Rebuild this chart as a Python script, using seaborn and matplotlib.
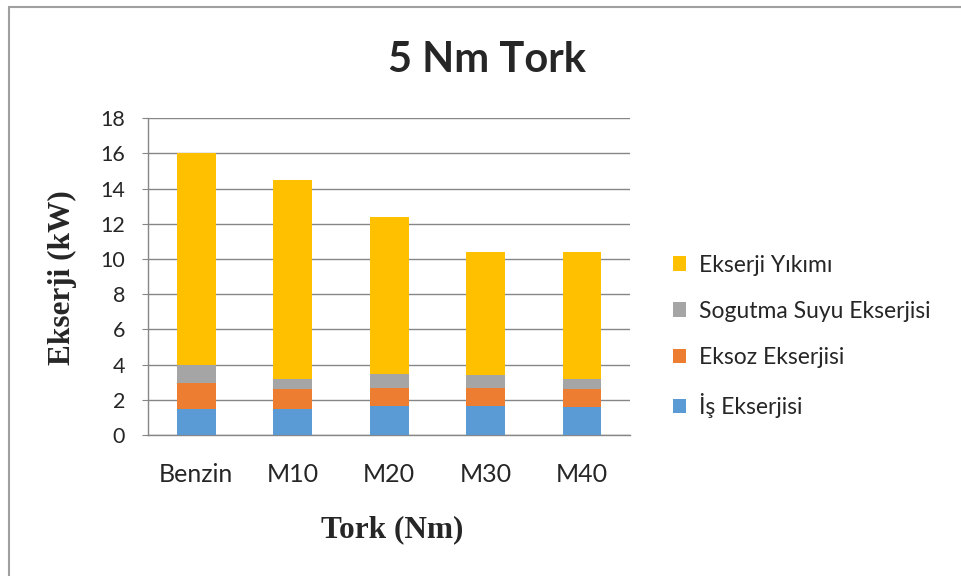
import pandas as pd
import matplotlib.pyplot as plt
import seaborn as sns
from matplotlib.lines import Line2D

# Values (kW)
yakitlar = ["Benzin", "M10", "M20", "M30", "M40"]
is_ekserjisi = [1.50, 1.50, 1.65, 1.65, 1.57]
eksoz_ekserjisi = [1.45, 1.10, 1.04, 1.04, 1.03]
sogutma_ekserjisi = [1.03, 0.56, 0.80, 0.72, 0.56]
ekserji_yikimi = [12.02, 11.31, 8.88, 7.00, 7.24]

seriler = ["İş Ekserjisi", "Eksoz Ekserjisi", "Sogutma Suyu Ekserjisi", "Ekserji Yıkımı"]
renkler = ["#5B9BD5", "#ED7D31", "#A5A5A5", "#FFC000"]

df = pd.DataFrame({
    "yakit": yakitlar,
    seriler[0]: is_ekserjisi,
    seriler[1]: eksoz_ekserjisi,
    seriler[2]: sogutma_ekserjisi,
    seriler[3]: ekserji_yikimi,
})

sns.set_style("white")
plt.rcParams['font.family'] = ['Lato', 'DejaVu Sans']

fig = plt.figure(figsize=(9.61, 5.76), dpi=100)
ax = fig.add_axes([0.154, 0.2448, 0.502, 0.5502])

# stacked bars
alt = [0.0] * len(yakitlar)
for seri, renk in zip(seriler, renkler):
    sns.barplot(data=df, x="yakit", y=seri, color=renk, width=0.4,
                bottom=alt, label=seri, ax=ax, zorder=3, saturation=1,
                linewidth=0, edgecolor="none")
    alt = [a + v for a, v in zip(alt, df[seri])]

h, l = ax.get_legend_handles_labels()
if ax.get_legend() is not None:
    ax.get_legend().remove()

ax.set_ylim(0, 18)
ax.set_xlim(-0.5, 4.5)
ax.set_yticks(range(0, 19, 2))
ax.yaxis.grid(True, color="#868686", linewidth=1, zorder=0)
for s in ["top", "right"]:
    ax.spines[s].set_visible(False)
for s in ["left", "bottom"]:
    ax.spines[s].set_color("#868686")
    ax.spines[s].set_linewidth(1)
ax.tick_params(axis="y", length=4.5, color="#868686", labelsize=15.5, pad=12, left=True)
ax.tick_params(axis="x", length=0, labelsize=18, pad=20)

ax.set_xlabel("Tork (Nm)", family="Liberation Serif", fontweight="bold", fontsize=22.5, va="center")
ax.xaxis.set_label_coords(0.506, -0.30)
ax.set_ylabel("")
fig.text(62 / 961, 1 - 278 / 576, "Ekserji (kW)", rotation=90, ha="center", va="center",
         family="Liberation Serif", fontweight="bold", fontsize=22.5)
fig.text(0.507, 0.896, "5 Nm Tork", ha="center", va="center", fontsize=30, fontweight="bold")

fig.legend(h[::-1], l[::-1], loc="center left", bbox_to_anchor=(0.700, 0.416), frameon=False,
           fontsize=16.5, handlelength=0.6, handleheight=0.6, handletextpad=0.55,
           labelspacing=1.1, borderpad=0, borderaxespad=0)

# chart frame: only top and left edges fall inside the image
fx, fy = 8.5 / 961, 1 - 6.5 / 576
fig.lines.append(Line2D([fx, fx], [0, fy], transform=fig.transFigure, color="#A0A0A0", linewidth=1.5))
fig.lines.append(Line2D([fx, 1], [fy, fy], transform=fig.transFigure, color="#A0A0A0", linewidth=1.5))

fig.savefig("out.png", dpi=100)
